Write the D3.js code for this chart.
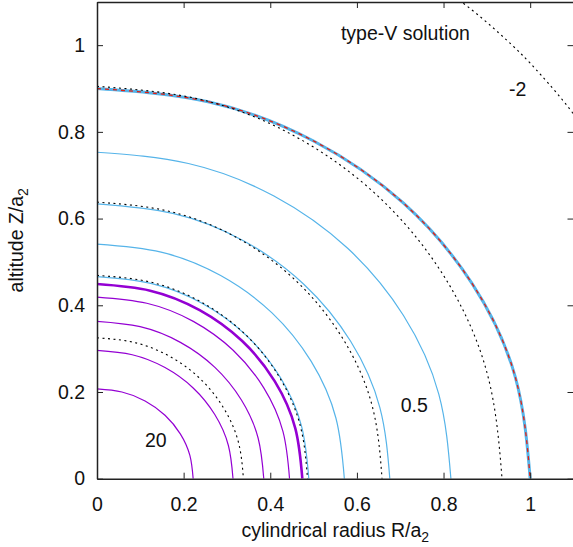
<!DOCTYPE html>
<html>
<head>
<meta charset="utf-8">
<script src="https://cdn.jsdelivr.net/npm/d3@7"></script>
<style>
  body { margin: 0; background: #fff; }
  text { font-family: "Liberation Sans", Arial, sans-serif; }
</style>
</head>
<body>
<div id="chart"></div>
<script>
// tick values
var xTicks = [0, 0.2, 0.4, 0.6, 0.8, 1];
var yTicks = [0, 0.2, 0.4, 0.6, 0.8, 1];

// each curve: [R/a2, Z/a2] points, from the Z axis to the R axis
var outerBlue   = [[0,0.9],[0.259,0.869],[0.5,0.779],[0.707,0.636],[0.866,0.45],[0.966,0.233],[1,0]];
var outerDotted = [[0,0.905],[0.242,0.874],[0.4675,0.784],[0.661,0.64],[0.81,0.4525],[0.903,0.234],[0.935,0]];
var blue4   = [[0,0.753],[0.211,0.727],[0.4085,0.652],[0.578,0.532],[0.7075,0.3765],[0.789,0.195],[0.817,0]];
var blue3   = [[0,0.634],[0.175,0.612],[0.338,0.549],[0.478,0.448],[0.5855,0.317],[0.653,0.164],[0.676,0]];
var dotted3 = [[0,0.638],[0.17,0.616],[0.329,0.5525],[0.465,0.451],[0.57,0.319],[0.636,0.165],[0.658,0]];
var blue2   = [[0,0.541],[0.148,0.5225],[0.2855,0.4685],[0.404,0.3825],[0.4945,0.2705],[0.5515,0.14],[0.571,0]];
var blue1   = [[0,0.466],[0.1266,0.45],[0.2445,0.4036],[0.3458,0.3295],[0.4235,0.233],[0.4723,0.1206],[0.489,0]];
var dotted2 = [[0,0.469],[0.1258,0.453],[0.243,0.4062],[0.3437,0.3316],[0.4209,0.2345],[0.4694,0.1214],[0.486,0]];
var purpleThick = [[0,0.449],[0.1227,0.4337],[0.237,0.3888],[0.3352,0.3175],[0.4105,0.2245],[0.4578,0.1162],[0.474,0]];
var purple4 = [[0,0.419],[0.115,0.4047],[0.2223,0.3629],[0.3143,0.2963],[0.385,0.2095],[0.4294,0.1084],[0.4445,0]];
var purple3 = [[0,0.363],[0.0996,0.3506],[0.1925,0.3144],[0.2722,0.2567],[0.3334,0.1815],[0.3719,0.0939],[0.385,0]];
var dotted1 = [[0,0.325],[0.0875,0.3139],[0.169,0.2815],[0.239,0.2298],[0.2927,0.1625],[0.3265,0.0841],[0.338,0]];
var purple2 = [[0,0.296],[0.0813,0.2859],[0.157,0.2563],[0.222,0.2093],[0.2719,0.148],[0.3033,0.0766],[0.314,0]];
var purple1 = [[0,0.207],[0.0575,0.2],[0.111,0.1793],[0.157,0.1464],[0.1923,0.1035],[0.2144,0.0536],[0.222,0]];
var minusTwo = [[0.72,1.183],[0.84,1.101],[0.93,1.026],[0.98,0.979],[1.026,0.93],[1.101,0.84],[1.183,0.72]];

var blue = "#56b4e9", purple = "#9400d3", red = "#e51e10";
var fontSize = "19.5px";

var margin = { top: 2, right: 0, bottom: 68, left: 97 },
    width = 573 - margin.left - margin.right,
    height = 547 - margin.top - margin.bottom;

var x = d3.scaleLinear().domain([0, 1.1]).range([0, 476.5]);
var y = d3.scaleLinear().domain([0, 1.1]).range([height - 0.3, -0.2]);

var svg = d3.select("#chart").append("svg")
    .attr("width", 573)
    .attr("height", 547)
    .append("g")
    .attr("transform", "translate(" + margin.left + "," + margin.top + ")");

svg.append("clipPath").attr("id", "clip")
    .append("rect")
    .attr("width", x(1.1))
    .attr("height", y(0));

var line = d3.line()
    .x(function(d) { return x(d[0]); })
    .y(function(d) { return y(d[1]); })
    .curve(d3.curveNatural);

var plot = svg.append("g").attr("clip-path", "url(#clip)");

function curve(data, color, w, dash) {
    plot.append("path")
        .datum(data)
        .attr("d", line)
        .attr("fill", "none")
        .attr("stroke", color)
        .attr("stroke-width", w)
        .attr("stroke-dasharray", dash || null);
}

curve(purple1, purple, 1.2);
curve(purple2, purple, 1.2);
curve(purple3, purple, 1.2);
curve(purple4, purple, 1.2);
curve(purpleThick, purple, 2.6);
curve(blue1, blue, 1.2);
curve(blue2, blue, 1.2);
curve(blue3, blue, 1.2);
curve(blue4, blue, 1.2);
curve(outerBlue, blue, 3);
curve(outerBlue, red, 1.3, "4,4");
curve(dotted1, "#000", 1.1, "2,3.5");
curve(dotted2, "#000", 1.1, "2,3.5");
curve(dotted3, "#000", 1.1, "2,3.5");
curve(outerDotted, "#000", 1.1, "2,3.5");
curve(minusTwo, "#000", 1.1, "2,3.5");

// axes, gnuplot style: inward ticks mirrored on top and right
var xAxis = d3.axisBottom(x).tickValues(xTicks).tickSize(-6).tickSizeOuter(0).tickPadding(18)
    .tickFormat(d3.format("~g"));
var yAxis = d3.axisLeft(y).tickValues(yTicks).tickSize(-6).tickSizeOuter(0).tickPadding(12)
    .tickFormat(d3.format("~g"));

svg.append("g")
    .attr("transform", "translate(0," + y(0) + ")")
    .call(xAxis);
svg.append("g")
    .call(yAxis);
svg.append("g")
    .call(d3.axisTop(x).tickValues(xTicks).tickSize(-6).tickSizeOuter(0).tickFormat(""));
svg.append("g")
    .attr("transform", "translate(" + x(1.1) + ",0)")
    .call(d3.axisRight(y).tickValues(yTicks).tickSize(-6).tickSizeOuter(0).tickFormat(""));

svg.selectAll(".domain").attr("stroke", "#222").attr("stroke-width", 1.5);
svg.selectAll(".tick line").attr("stroke", "#222");
svg.selectAll(".tick text").style("font-size", fontSize).attr("fill", "#111")
    .style("font-family", "Liberation Sans, Arial, sans-serif");

// labels
svg.append("text")
    .attr("x", x(0.55))
    .attr("y", 535)
    .attr("text-anchor", "middle")
    .style("font-size", fontSize)
    .attr("fill", "#111")
    .html('cylindrical radius R/a<tspan dy="5" font-size="14px">2</tspan>');

svg.append("text")
    .attr("transform", "translate(-74," + (y(0.55)) + ") rotate(-90)")
    .attr("text-anchor", "middle")
    .style("font-size", fontSize)
    .attr("fill", "#111")
    .html('altitude Z/a<tspan dy="5" font-size="14px">2</tspan>');

function note(t, xv, yv) {
    svg.append("text")
        .attr("x", x(xv))
        .attr("y", y(yv))
        .attr("text-anchor", "middle")
        .style("font-size", fontSize)
        .attr("fill", "#111")
        .text(t);
}
note("type-V solution", 0.712, 1.012);
note("-2", 0.971, 0.883);
note("0.5", 0.7325, 0.154);
note("20", 0.1357, 0.073);
</script>
</body>
</html>
